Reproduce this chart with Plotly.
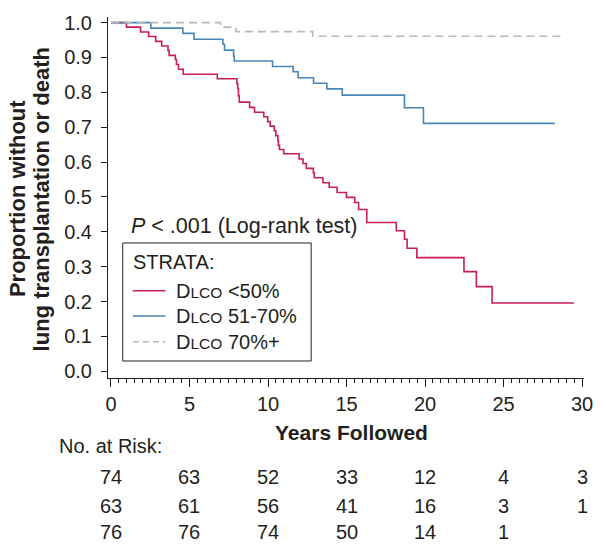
import plotly.graph_objects as go

# ---- data ----
t_low = [0, 0.98, 1.88, 2.4, 2.85, 3.23, 3.63, 3.7, 4.1, 4.17, 4.3, 4.6, 6.77, 8.02, 8.07, 8.12, 8.17,
         8.83, 9.14, 9.73, 9.98, 10.14, 10.4, 10.5, 10.63, 10.66, 10.73, 11.0, 11.98, 12.23, 12.44,
         12.89, 12.95, 13.5, 13.9, 14.4, 15.0, 15.52, 15.77, 16.29, 18.17, 18.69, 18.86, 19.48,
         22.48, 23.27, 24.27, 29.48]
s_low = [1.0, 0.987, 0.973, 0.960, 0.946, 0.933, 0.920, 0.906, 0.894, 0.880, 0.866, 0.852, 0.839,
         0.825, 0.811, 0.790, 0.772, 0.757, 0.743, 0.730, 0.716, 0.703, 0.690, 0.676, 0.662, 0.648,
         0.636, 0.624, 0.609, 0.596, 0.582, 0.569, 0.555, 0.541, 0.528, 0.513, 0.499, 0.484, 0.464,
         0.427, 0.403, 0.379, 0.353, 0.326, 0.286, 0.243, 0.196, 0.196]

t_mid = [0, 2.54, 4.58, 5.29, 7.13, 7.23, 7.81, 7.85, 10.29, 11.6, 11.92, 12.9, 13.75, 14.73,
         18.69, 19.9, 28.27]
s_mid = [1.0, 0.984, 0.969, 0.952, 0.938, 0.921, 0.904, 0.890, 0.874, 0.859, 0.842, 0.826, 0.810,
         0.792, 0.756, 0.711, 0.711]

t_high = [0, 6.98, 7.96, 12.85, 28.8]
s_high = [1.0, 0.987, 0.974, 0.961, 0.961]

risk_years = [0, 5, 10, 15, 20, 25, 30]
risk_low = [74, 63, 52, 33, 12, 4, 3]
risk_mid = [63, 61, 56, 41, 16, 3, 1]
risk_high = [76, 76, 74, 50, 14, 1, None]

names = ['D<span style="font-size:15.5px">LCO</span> &lt;50%',
         'D<span style="font-size:15.5px">LCO</span> 51-70%',
         'D<span style="font-size:15.5px">LCO</span> 70%+']
colors = ['#c81d5c', '#4a86b4', '#b8b8b8']
dashes = ['solid', 'solid', '8px,5px']

FONT = 'Liberation Sans, Arial, sans-serif'
TXT = '#231f20'
FS = 20

fig = go.Figure()
for tt, ss, nm, col, ds in zip([t_low, t_mid, t_high], [s_low, s_mid, s_high], names, colors, dashes):
    fig.add_trace(go.Scatter(x=tt, y=ss, mode='lines', name=nm, showlegend=False,
                             line=dict(shape='hv', color=col, width=1.6, dash=ds)))

# ---- manual legend (STRATA box) ----
fig.add_shape(type='rect', xref='paper', yref='paper', x0=0.0309, x1=0.4268, y0=0.0471, y1=0.374,
              line=dict(color=TXT, width=1), fillcolor='white', layer='above')
fig.add_annotation(x=0.0488, y=0.3213, xref='paper', yref='paper', text='STRATA:', showarrow=False,
                   font=dict(family=FONT, size=FS, color=TXT), xanchor='left', yanchor='middle')
leg_y = [0.2416, 0.1717, 0.1006]
for nm, col, ds, yy in zip(names, colors, dashes, leg_y):
    fig.add_shape(type='line', xref='paper', yref='paper', x0=0.0522, x1=0.1208, y0=yy, y1=yy,
                  line=dict(color=col, width=1.6, dash=ds if ds == 'solid' else '6px,4px'))
    fig.add_annotation(x=0.1395, y=yy, xref='paper', yref='paper', text=nm, showarrow=False,
                       font=dict(family=FONT, size=FS, color=TXT), xanchor='left', yanchor='middle')

# ---- risk table ----
rows_y = [-0.2734, -0.3546, -0.4266]
for vals, yy in zip([risk_low, risk_mid, risk_high], rows_y):
    for xv, v in zip(risk_years, vals):
        if v is None:
            continue
        fig.add_annotation(x=xv, y=yy, xref='x', yref='paper', text=str(v), showarrow=False,
                           font=dict(family=FONT, size=FS, color=TXT), xanchor='center', yanchor='middle')
fig.add_annotation(x=-0.107, y=-0.1875, xref='paper', yref='paper', text='No. at Risk:', showarrow=False,
                   font=dict(family=FONT, size=FS, color=TXT), xanchor='left', yanchor='middle')

fig.add_annotation(x=0.045, y=0.421, xref='paper', yref='paper',
                   text='<i>P</i> &lt; .001 (Log-rank test)', showarrow=False,
                   font=dict(family=FONT, size=21.5, color=TXT), xanchor='left', yanchor='middle')

# ---- axis titles ----
fig.add_annotation(x=0.512, y=-0.1496, xref='paper', yref='paper', text='<b>Years Followed</b>',
                   showarrow=False, font=dict(family=FONT, size=21, color=TXT),
                   xanchor='center', yanchor='middle')
for txt, xx in [('<b>Proportion without</b>', -0.191), ('<b>lung transplantation or death</b>', -0.140)]:
    fig.add_annotation(x=xx, y=0.4958, xref='paper', yref='paper', text=txt, textangle=-90,
                       showarrow=False, font=dict(family=FONT, size=22, color=TXT),
                       xanchor='center', yanchor='middle')

fig.update_layout(
    width=603, height=544,
    margin=dict(l=108, r=10, t=17, b=166),
    paper_bgcolor='white', plot_bgcolor='white',
    font=dict(family=FONT, size=FS, color=TXT),
    showlegend=False,
    xaxis=dict(range=[-0.19, 30.125], tickmode='array', tickvals=risk_years,
               ticks='outside', ticklen=8, tickcolor=TXT, tickwidth=1,
               minor=dict(dtick=0.5, ticklen=4, ticks='outside', tickcolor=TXT, tickwidth=1),
               showline=True, linecolor=TXT, linewidth=1, showgrid=False, zeroline=False,
               tickfont=dict(size=FS, family=FONT, color=TXT)),
    yaxis=dict(range=[-0.019, 1.016], tickmode='array', tickvals=[i / 10 for i in range(11)],
               tickformat='.1f', ticks='outside', ticklen=6, tickcolor=TXT, tickwidth=1,
               ticklabelstandoff=5,
               showline=True, linecolor=TXT, linewidth=1, showgrid=False, zeroline=False,
               tickfont=dict(size=FS, family=FONT, color=TXT)),
)

fig.write_html('out.html')
